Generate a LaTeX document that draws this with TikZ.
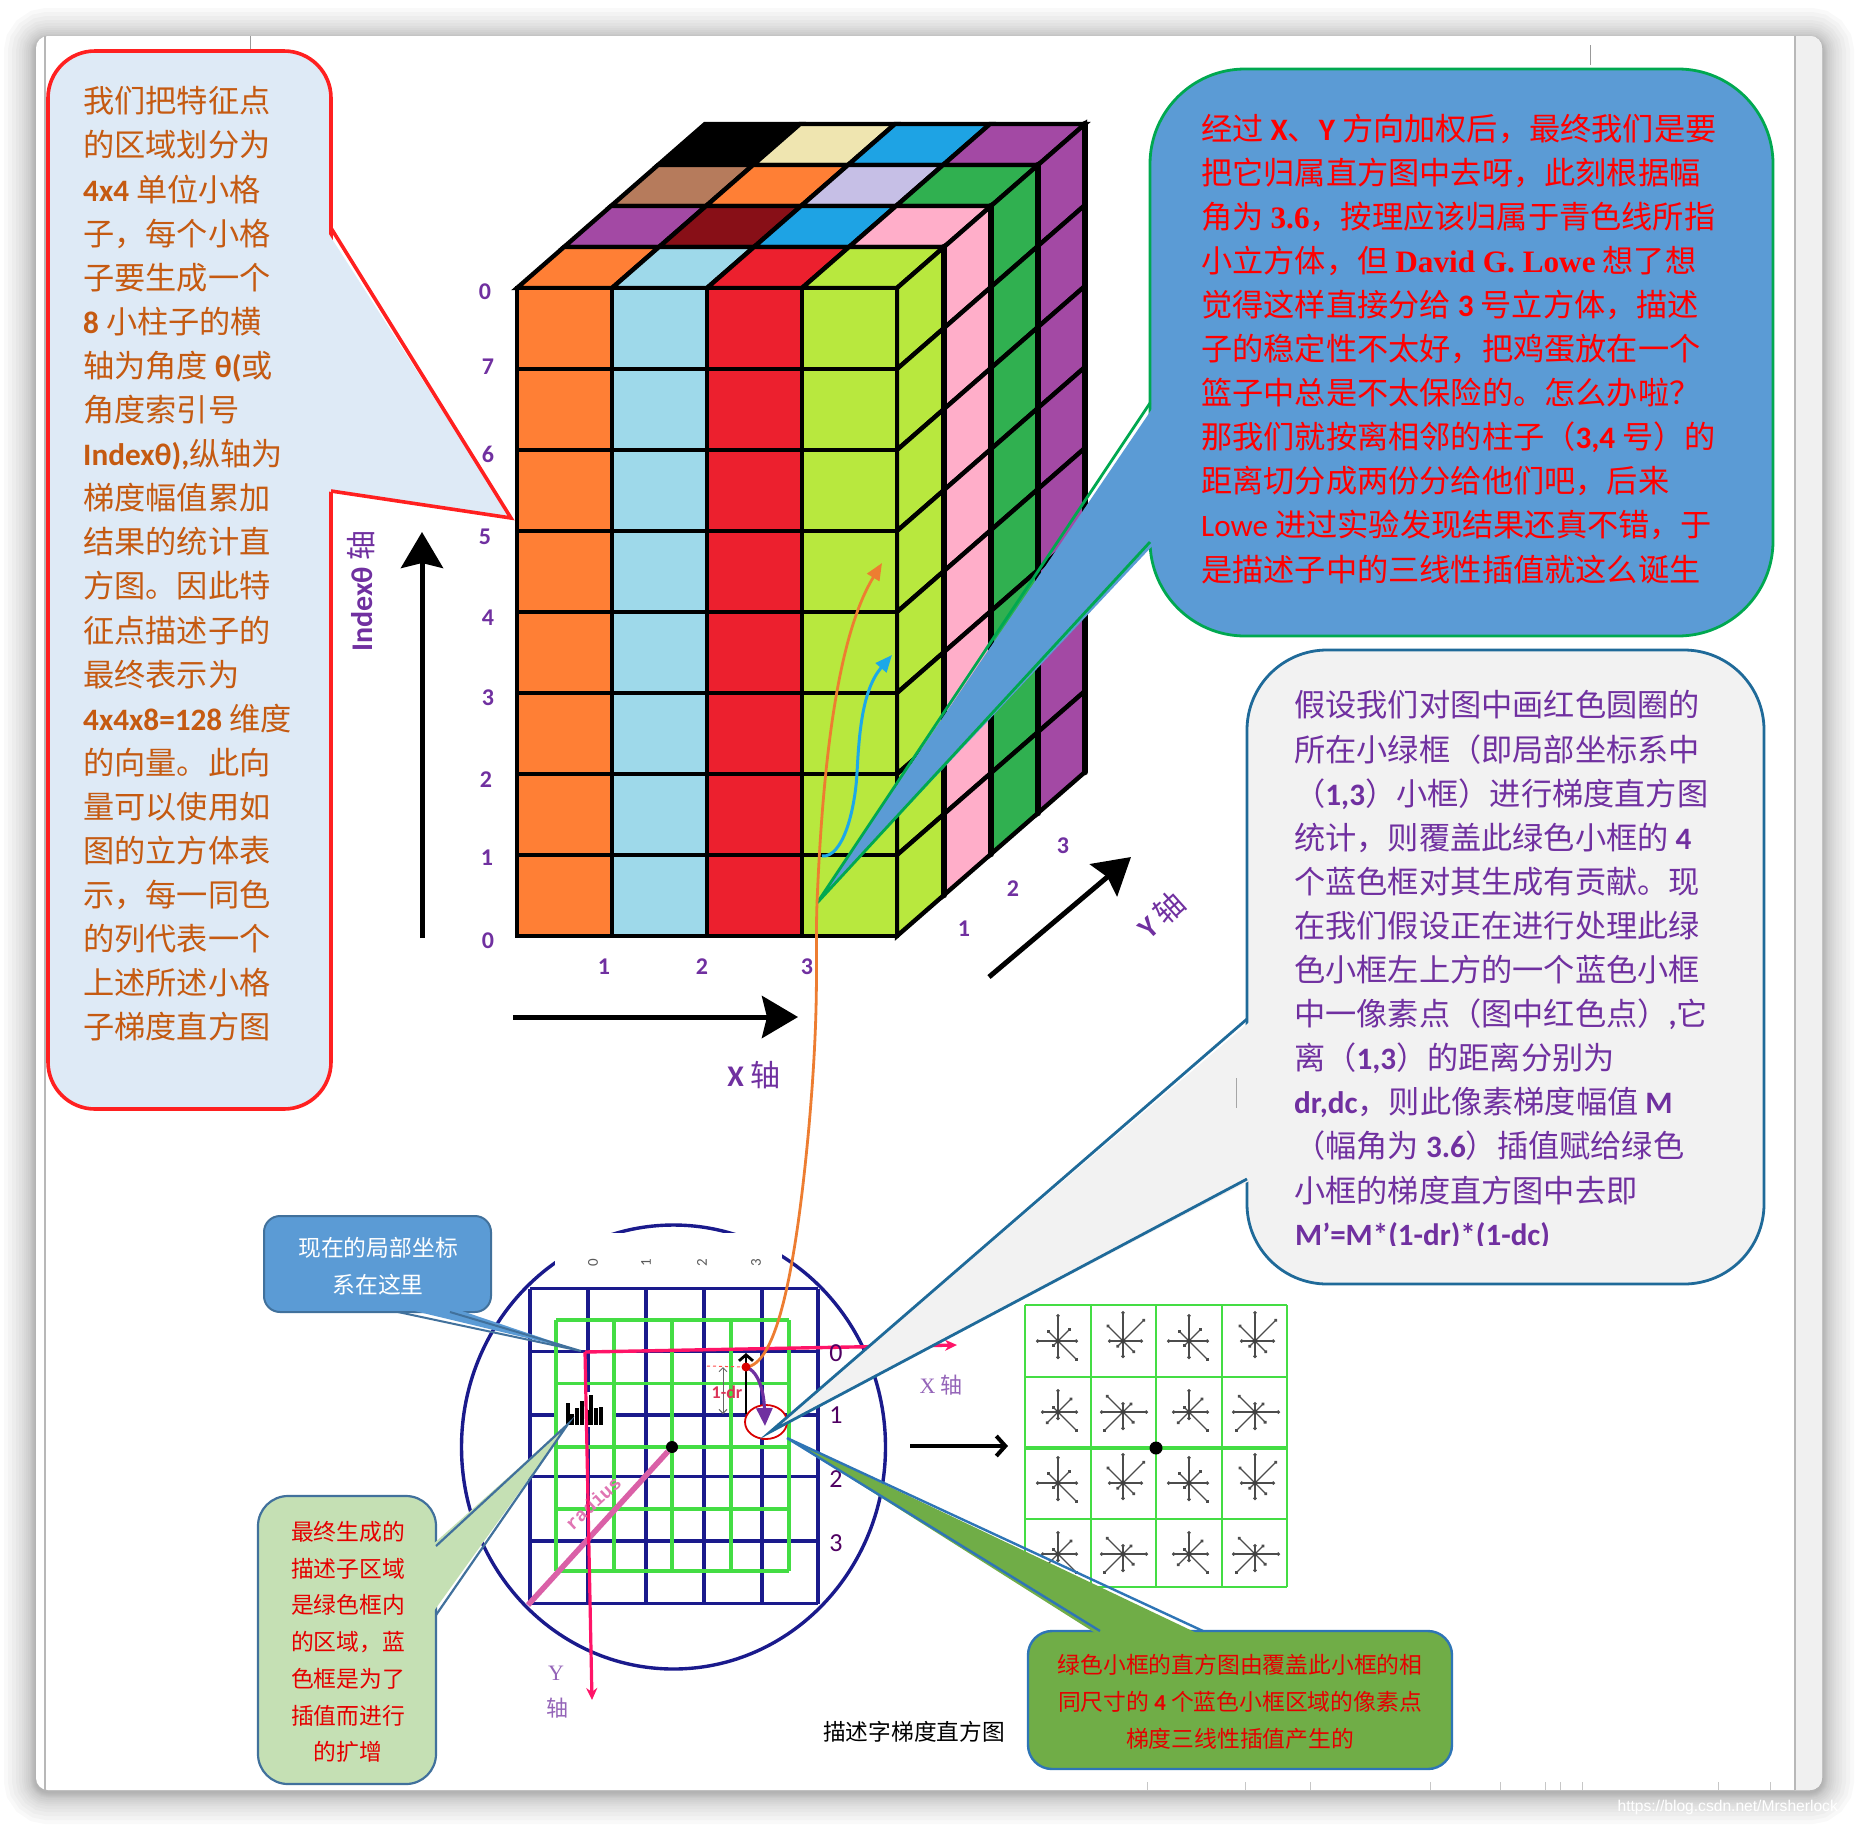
\documentclass[tikz,border=0pt]{standalone}
\usepackage{fontspec}
\setmainfont{Noto Sans CJK SC}
\newfontfamily\enfont{Carlito}
\newfontfamily\romanfont{Liberation Serif}
\newfontfamily\markfont{Liberation Sans}
\newfontfamily\typefont{Liberation Mono}
\usetikzlibrary{arrows.meta,calc,shapes.geometric}
\definecolor{cuorange}{HTML}{FF7F35}
\definecolor{cusky}{HTML}{9ED9EA}
\definecolor{cured}{HTML}{EC202E}
\definecolor{culime}{HTML}{B8E83E}
\definecolor{cuplum}{HTML}{A349A4}
\definecolor{cumaroon}{HTML}{880F17}
\definecolor{cublue}{HTML}{1EA3E4}
\definecolor{cupink}{HTML}{FFAEC9}
\definecolor{cubrown}{HTML}{B67B5C}
\definecolor{culav}{HTML}{C6BFE6}
\definecolor{cugreen}{HTML}{30B050}
\definecolor{cucream}{HTML}{EFE5B0}
\definecolor{axispurple}{HTML}{7030A0}
\definecolor{notebrown}{HTML}{C55A11}
\definecolor{navyline}{HTML}{1A1A8C}
\definecolor{gridgreen}{HTML}{44DD44}
\definecolor{axispink}{HTML}{FF1468}
\definecolor{curveorange}{HTML}{ED7D31}
\definecolor{curvecyan}{HTML}{1CA8E8}
\definecolor{featfill}{HTML}{DEEAF6}
\definecolor{featedge}{HTML}{FF2020}
\definecolor{lowefill}{HTML}{5B9BD5}
\definecolor{loweedge}{HTML}{00A850}
\definecolor{askfill}{HTML}{F2F2F2}
\definecolor{askedge}{HTML}{1F6A99}
\definecolor{softedge}{HTML}{41719C}
\definecolor{regionfill}{HTML}{C5E0B4}
\definecolor{triplefill}{HTML}{70AD47}
\definecolor{tripleedge}{HTML}{2E75B6}
\newcommand{\bigtxt}{\fontsize{31.2}{44.1}\selectfont}
\newcommand{\midtxt}{\fontsize{22.8}{36.7}\selectfont}
\newcommand{\en}[1]{{\enfont\bfseries #1}}
\newcommand{\orient}[3]{
  \edef\patlist{#3}
  \foreach \ang/\len in \patlist {\draw[starline] (#1,#2) -- ++(\ang:\len pt);}
  \fill[black!75] (#1,#2) circle (2.4pt);
}
\def\patA{0/20,45/18,90/27,135/15,180/22,225/8,270/18,315/28}
\def\patB{0/20,45/31,90/30,135/23,180/15,225/9,270/17,315/17}
\def\patC{0/20,45/20,90/23,135/8,180/17,225/17,270/8,315/28}
\def\patD{0/25,45/13,90/10,135/24,180/23,225/28,270/18,315/16}
\begin{document}
\begin{tikzpicture}[
  x=1pt,y=-1pt,
  cubeline/.style={draw=black, line width=4.4pt, line join=miter},
  axisnum/.style={text=axispurple, font=\enfont\bfseries\fontsize{24}{26}\selectfont, inner sep=0pt},
  axisname/.style={text=axispurple, font=\fontsize{30}{32}\selectfont, inner sep=0pt},
  bigarr/.style={black, line width=5pt, -{Stealth[length=36pt,width=42pt,inset=5pt]}},
  boxtext/.style={inner sep=0pt, anchor=north west, align=left},
  midtext/.style={inner sep=0pt, align=center, font=\midtxt},
  outbox/.style={anchor=north west, inner sep=0pt, outer sep=0pt},
  navygrid/.style={draw=navyline, line width=3.2pt},
  greengrid/.style={draw=gridgreen, line width=3.2pt},
  starline/.style={draw=black!70, line width=1.2pt, -{Circle[length=3.4pt]}},
  smalldim/.style={black!60, line width=1pt, {Straight Barb[length=4pt,width=8pt]}-{Straight Barb[length=4pt,width=8pt]}},
  numblue/.style={text=blue!55!red!70!black, font=\enfont\fontsize{26}{28}\selectfont, inner sep=0pt}
]
\useasboundingbox (0,0) rectangle (1858,1826);

% window frame
\foreach \w in {1,2,3,4,5,6,8,10,12,14,17,20,24,28,32}
  \draw[black, opacity=.022, line width=2*\w pt, rounded corners=12pt] (36,40) rectangle (1822,1792);
\fill[white, rounded corners=12pt] (36,36) rectangle (1822,1790);
\fill[black!6] (1795,36) -- (1810,36) arc (90:0:12pt) -- (1822,1778) arc (0:-90:12pt) -- (1795,1790) -- cycle;
\draw[black!28, line width=1.4pt] (1795,36) -- (1795,1790);
\draw[black!28, line width=1.4pt] (45,36) -- (45,1790);
\draw[black!40, line width=1pt] (250,36) -- (250,50);
\draw[black!40, line width=1pt] (1590,45) -- (1590,65);
\foreach \x in {1147,1245,1310,1430,1500,1545,1560,1582,1718,1770}
  \draw[black!22, line width=1pt] (\x,1782) -- (\x,1790);
\node[text=white, inner sep=0pt, anchor=east, font=\markfont\fontsize{15.6}{17}\selectfont] (mark) at (1838,1807) {https://blog.csdn.net/Mrsherlock};

% cube
\foreach \lay/\cola/\colb/\colc/\cold in {3/black/cucream/cublue/cuplum,2/cubrown/cuorange/culav/cugreen,1/cuplum/cumaroon/cublue/cupink,0/cuorange/cusky/cured/culime}{
  \foreach \col/\c in {0/\cola,1/\colb,2/\colc,3/\cold}{
    \pgfmathsetmacro\px{517+95*\col+47*\lay}
    \pgfmathsetmacro\py{288-41*\lay}
    \draw[cubeline, fill=\c] (\px,\py) -- ++(95,0) -- ++(47,-41) -- ++(-95,0) -- cycle;
  }
}
\foreach \lay/\c in {3/cuplum,2/cugreen,1/cupink,0/culime}{
  \foreach \row in {0,...,7}{
    \pgfmathsetmacro\px{897+47*\lay}
    \pgfmathsetmacro\py{288+81*\row-41*\lay}
    \draw[cubeline, fill=\c] (\px,\py) -- ++(47,-41) -- ++(0,81) -- ++(-47,41) -- cycle;
  }
  \pgfmathsetmacro\px{897+47*(\lay+1)}
  \pgfmathsetmacro\py{288-41*(\lay+1)}
  \draw[black, line width=6.5pt, line cap=round] (\px,\py) -- ++(0,648);
}
\foreach \col/\c in {0/cuorange,1/cusky,2/cured,3/culime}{
  \foreach \row in {0,...,7}{
    \pgfmathsetmacro\px{517+95*\col}
    \pgfmathsetmacro\py{288+81*\row}
    \draw[cubeline, fill=\c] (\px,\py) rectangle ++(95,81);
  }
}

\foreach \y/\x/\t [count=\i] in {292/485/0,367/488/7,454/488/6,537/485/5,618/488/4,698/488/3,780/486/2,858/487/1,941/488/0}
  \node[axisnum] (level\i) at (\x,\y) {\t};
\foreach \x/\y/\t [count=\i] in {604/967/1,702/967/2,807/967/3,964/929/1,1013/889/2,1063/846/3}
  \node[axisnum] (cell\i) at (\x,\y) {\t};
\coordinate (indexfoot) at (422,938);
\coordinate (indextip) at (422,532);
\draw[bigarr] (indexfoot) -- (indextip);
\coordinate (xfoot) at (513,1017);
\coordinate (xtip) at (798,1017);
\draw[bigarr] (xfoot) -- (xtip);
\coordinate (yfoot) at (989,977);
\coordinate (ytip) at (1131,857);
\draw[bigarr] (yfoot) -- (ytip);
\node[axisname] (xname) at (754,1075) {\en{X} 轴};
\node[axisname, rotate=90] (indexname) at (361,591) {\en{Indexθ} 轴};
\node[axisname, rotate=42] (yname) at (1161,915) {\en{Y} 轴};

% keypoint region
\draw[navyline, line width=3.4pt] (673.5,1447) ellipse (212pt and 222pt);
\fill[white] (555,1233) rectangle (782,1271);
\foreach \x/\t [count=\i] in {593/0,646/1,702/2,756/3}
  \node[rotate=90, text=black!65, inner sep=0pt, font=\enfont\fontsize{15}{16}\selectfont] (top\i) at (\x,1263) {\t};
\foreach \x in {530,588,646,704,762,818}
  \draw[navygrid] (\x,1288.5) -- (\x,1603.5);
\foreach \y in {1288.5,1351.5,1415,1476.5,1541,1603.5}
  \draw[navygrid] (530,\y) -- (818,\y);
\foreach \x in {556,614,672,731,789}
  \draw[greengrid] (\x,1320) -- (\x,1571);
\foreach \y in {1320,1383.5,1447,1509,1571}
  \draw[greengrid] (556,\y) -- (789,\y);
\fill[white] (558,1392) rectangle (612,1427);
\foreach \x/\y in {568/1403,572/1413.5,577/1408,582/1401,587/1410,591/1394.6,596/1408,601/1407}
  \draw[black, line width=3.2pt] (\x,1424.5) -- (\x,\y);

\node[circle, fill=black, minimum size=12pt, inner sep=0pt] (centre) at (672,1447) {};
\coordinate (corner) at (528,1605);
\draw[magenta!65!violet!70!white, line width=5.5pt] (centre) -- (corner);
\node[rotate=43, text=magenta!65!violet!60!white, inner sep=0pt, font=\typefont\bfseries\fontsize{19}{20}\selectfont] (radius) at (593,1503) {radius};

\coordinate (origin) at (585,1352);
\coordinate (xend) at (957,1345);
\coordinate (yend) at (592,1700);
\draw[axispink, line width=3.4pt, -{Stealth[length=12pt,width=11pt]}] (origin) -- (xend);
\draw[axispink, line width=3.2pt, -{Stealth[length=12pt,width=11pt]}] (origin) -- (yend);
\node[text=axispurple!75!white, inner sep=0pt, font=\fontsize{22}{24}\selectfont] (xaxis) at (941,1385) {{\romanfont X} 轴};
\node[text=axispurple!75!white, inner sep=0pt, align=center, font=\fontsize{22}{36}\selectfont] (yaxis) at (556,1692) {{\romanfont Y}\\\,轴};
\foreach \y/\t [count=\i] in {1353/0,1415/1,1479/2,1543/3}
  \node[numblue] (row\i) at (836,\y) {\t};

\node[ellipse, draw=red!85!black, fill=white, line width=1.8pt, minimum width=42pt, minimum height=34pt, inner sep=0pt] (pixelring) at (766,1422) {};
\coordinate (redpoint) at (746,1367);
\coordinate (topmark) at (746,1353);
\coordinate (botmark) at (746,1414);
\coordinate (dimtop) at (723,1367);
\coordinate (dimbot) at (723,1414);
\coordinate (dashend) at (707,1366);
\draw[red!70!white, dashed, line width=1pt] (dashend) -- (redpoint);
\draw[black, line width=2.8pt, {Straight Barb[length=6pt,width=14pt]}-] (topmark) -- (botmark);
\draw[smalldim] (dimtop) -- (dimbot);
\node[text=purple!70!red!80!white, inner sep=0pt, font=\enfont\bfseries\fontsize{18}{19}\selectfont] (onedr) at (727,1392) {1-dr};
\coordinate (arrowend) at (765,1426);
\draw[axispurple, line width=3.2pt, -{Triangle[length=18pt,width=16pt]}] (redpoint) .. controls (760,1372) and (764,1395) .. (arrowend);

% histogram grid on the right
\foreach \x in {1025,1091,1156,1222,1287}
  \draw[greengrid, line width=2.6pt] (\x,1305) -- (\x,1587);
\foreach \y/\w in {1305/2.6,1377/2.6,1448/3.8,1519/2.6,1587/2.6}
  \draw[greengrid, line width=\w pt] (1025,\y) -- (1287,\y);
\foreach \cy/\pata/\patb in {1341/\patA/\patB,1412/\patC/\patD,1483/\patA/\patB,1554/\patC/\patD}{
  \foreach \cx/\pat in {1058/\pata,1123/\patb,1189/\pata,1255/\patb}{
    \orient{\cx}{\cy}{\pat}
  }
}
\node[circle, fill=black, minimum size=13pt, inner sep=0pt] (gridcentre) at (1156,1448) {};
\coordinate (gofrom) at (910,1446);
\coordinate (goto) at (1008,1446);
\draw[black, line width=4pt, -{Straight Barb[length=9pt,width=20pt]}] (gofrom) -- (goto);
\node[inner sep=0pt, font=\fontsize{22.7}{24}\selectfont] (title) at (914,1732) {描述字梯度直方图};

% callouts
\node[outbox, draw=featedge, fill=featfill, line width=3.6pt, rounded corners=47pt, minimum width=283pt, minimum height=1058pt] (featbg) at (48,51) {};
\coordinate (feata) at (331,228);
\coordinate (feattip) at (511,518);
\coordinate (featb) at (331,491);
\fill[featfill] ($(feata)+(-6,0)$) -- (feattip) -- ($(featb)+(-6,0)$) -- cycle;
\draw[draw=featedge, line width=3.6pt] (feata) -- (feattip) -- (featb);

\node[outbox, draw=loweedge, fill=lowefill, line width=2.8pt, rounded corners=95pt, minimum width=623pt, minimum height=567pt] (lowebg) at (1150,69) {};
\coordinate (lowea) at (1150,403);
\coordinate (lowetip) at (817,903);
\coordinate (loweb) at (1150,542);
\fill[lowefill] ($(lowea)+(6,0)$) -- (lowetip) -- ($(loweb)+(6,0)$) -- cycle;
\draw[draw=loweedge, line width=2.8pt] (lowea) -- (lowetip) -- (loweb);

\node[outbox, draw=askedge, fill=askfill, line width=2.8pt, rounded corners=80pt, minimum width=517pt, minimum height=634pt] (askbg) at (1247,650) {};
\coordinate (aska) at (1247,1019);
\coordinate (asktip) at (770,1432);
\coordinate (askb) at (1247,1179);
\fill[askfill] ($(aska)+(6,0)$) -- (asktip) -- ($(askb)+(6,0)$) -- cycle;
\draw[draw=askedge, line width=2.8pt] (aska) -- (asktip) -- (askb);
\draw[black!35, line width=1pt] (1236,1078) -- (1236,1108);

\node[outbox, draw=softedge, fill=lowefill, line width=2pt, rounded corners=16pt, minimum width=227pt, minimum height=96pt] (hintbg) at (264,1216) {};
\coordinate (hinta) at (398,1312);
\coordinate (hinttip) at (581,1351);
\coordinate (hintb) at (450,1312);
\fill[lowefill] ($(hinta)+(0,-5)$) -- (hinttip) -- ($(hintb)+(0,-5)$) -- cycle;
\draw[draw=softedge, line width=2pt] (hinta) -- (hinttip) -- (hintb);

\node[outbox, draw=softedge, fill=regionfill, line width=2.2pt, rounded corners=30pt, minimum width=178pt, minimum height=288pt] (regionbg) at (258,1496) {};
\coordinate (regiona) at (436,1546);
\coordinate (regiontip) at (568,1424);
\coordinate (regionb) at (436,1615);
\fill[regionfill] ($(regiona)+(-5,0)$) -- (regiontip) -- ($(regionb)+(-5,0)$) -- cycle;
\draw[draw=softedge, line width=2.2pt] (regiona) -- (regiontip) -- (regionb);

\node[outbox, draw=tripleedge, fill=triplefill, line width=2.4pt, rounded corners=24pt, minimum width=424pt, minimum height=138pt] (triplebg) at (1028,1631) {};
\coordinate (triplea) at (1100,1631);
\coordinate (tripletip) at (787,1438);
\coordinate (tripleb) at (1203,1631);
\fill[triplefill] ($(triplea)+(0,5)$) -- (tripletip) -- ($(tripleb)+(0,5)$) -- cycle;
\draw[draw=tripleedge, line width=2.4pt] (triplea) -- (tripletip) -- (tripleb);

\coordinate (orangeend) at (882,563);
\draw[curveorange, line width=2.8pt, -{Triangle[length=17pt,width=14pt]}] (redpoint) .. controls (775,1365) and (795,1280) .. (809,1126) .. controls (820,1000) and (815,960) .. (817,903) .. controls (822,780) and (835,640) .. (orangeend);
\coordinate (cyanstart) at (822,856);
\coordinate (cyanend) at (892,655);
\draw[curvecyan, line width=3pt, -{Triangle[length=17pt,width=14pt]}] (cyanstart) .. controls (843,858) and (855,810) .. (857,773) .. controls (859,735) and (862,690) .. (cyanend);
\fill[red!85!black] (redpoint) circle (4.5pt);

% texts
\node[boxtext, text=notebrown, font=\bigtxt] (feattext) at (83,86.4) {我们把特征点\\的区域划分为\\\en{4x4} 单位小格\\子，每个小格\\子要生成一个\\\en{8} 小柱子的横\\轴为角度 \en{θ(}或\\角度索引号\\\en{Indexθ),}纵轴为\\梯度幅值累加\\结果的统计直\\方图。因此特\\征点描述子的\\最终表示为\\\en{4x4x8=128} 维度\\的向量。此向\\量可以使用如\\图的立方体表\\示，每一同色\\的列代表一个\\上述所述小格\\子梯度直方图};
\node[boxtext, text=red, font=\bigtxt] (lowetext) at (1201,113.4) {经过 \en{X}、\en{Y} 方向加权后，最终我们是要\\把它归属直方图中去呀，此刻根据幅\\角为 {\romanfont\bfseries 3.6}，按理应该归属于青色线所指\\小立方体，但 {\romanfont\bfseries David G. Lowe} 想了想\\觉得这样直接分给 \en{3} 号立方体，描述\\子的稳定性不太好，把鸡蛋放在一个\\篮子中总是不太保险的。怎么办啦？\\那我们就按离相邻的柱子（\en{3,4} 号）的\\距离切分成两份分给他们吧，后来\\{\enfont Lowe} 进过实验发现结果还真不错，于\\是描述子中的三线性插值就这么诞生};
\node[boxtext, text=axispurple, font=\bigtxt] (asktext) at (1294,690.4) {假设我们对图中画红色圆圈的\\所在小绿框（即局部坐标系中\\（\en{1,3}）小框）进行梯度直方图\\统计，则覆盖此绿色小框的 \en{4}\\个蓝色框对其生成有贡献。现\\在我们假设正在进行处理此绿\\色小框左上方的一个蓝色小框\\中一像素点（图中红色点）\en{,}它\\离（\en{1,3}）的距离分别为\\\en{dr,dc}，则此像素梯度幅值 \en{M}\\（幅角为 \en{3.6}）插值赋给绿色\\小框的梯度直方图中去即};
\begin{scope}
\clip (1280,1215) rectangle (1760,1245);
\node[inner sep=0pt, anchor=west, text=axispurple, font=\enfont\bfseries\fontsize{31}{33}\selectfont] (weighttext) at (1295,1236) {M’=M*(1-dr)*(1-dc)};
\end{scope}
\node[midtext, text=white] (hinttext) at (378,1266) {现在的局部坐标\\系在这里};
\node[midtext, text=red!90!black] (regiontext) at (348,1642) {最终生成的\\描述子区域\\是绿色框内\\的区域，蓝\\色框是为了\\插值而进行\\的扩增};
\node[midtext, text=red!90!black] (tripletext) at (1240,1702) {绿色小框的直方图由覆盖此小框的相\\同尺寸的 \en{4} 个蓝色小框区域的像素点\\梯度三线性插值产生的};
\end{tikzpicture}
\end{document}
